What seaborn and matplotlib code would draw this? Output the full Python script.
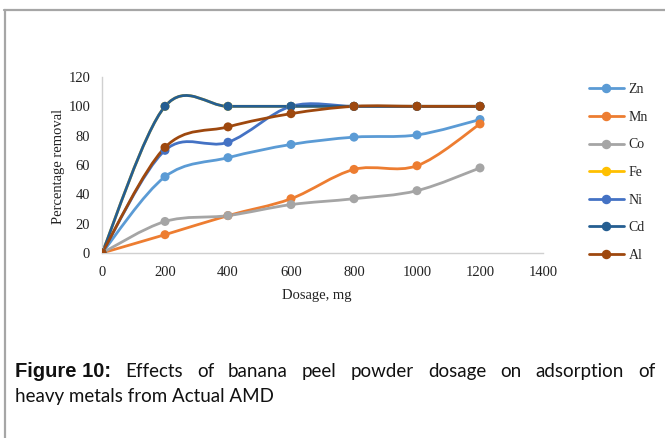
import numpy as np
import pandas as pd
import seaborn as sns
import matplotlib.pyplot as plt
from matplotlib.path import Path
from matplotlib.patches import PathPatch
from matplotlib.lines import Line2D

dosage = [0, 200, 400, 600, 800, 1000, 1200]
zn = [0, 52, 65, 74, 79, 80.5, 91]
mn = [0, 12.5, 25.5, 37, 57, 59.5, 88]
co = [0, 21.5, 25.5, 33, 37, 42.5, 58]
fe = [0, 100, 100, 100, 100, 100, 100]
ni = [0, 70, 75.5, 100, 100, 100, 100]
cd = [0, 100, 100, 100, 100, 100, 100]
al = [0, 72, 86, 95, 100, 100, 100]
metals = ['Zn', 'Mn', 'Co', 'Fe', 'Ni', 'Cd', 'Al']
series = [zn, mn, co, fe, ni, cd, al]
colors = ['#5B9BD5', '#ED7D31', '#A5A5A5', '#FFC000', '#4472C4', '#255E91', '#9E480E']

sns.set_theme(style="white")
plt.rcParams['font.family'] = ['Liberation Serif', 'DejaVu Serif']

rows = []
for m, vals in zip(metals, series):
    for d, v in zip(dosage, vals):
        rows.append({'Dosage': d, 'Removal': v, 'Metal': m})
df = pd.DataFrame(rows)

W, H = 665, 438
fig = plt.figure(figsize=(W / 100, H / 100), dpi=100)
ax = fig.add_axes([102 / W, 1 - 253 / H, 441 / W, 176 / H])


def smooth_path(x, y):
    # excel-like smoothed line (catmull-rom as bezier segments)
    pts = np.column_stack([x, y]).astype(float)
    p = np.vstack([pts[0], pts, pts[-1]])
    verts = [pts[0]]
    codes = [Path.MOVETO]
    for i in range(1, len(p) - 2):
        c1 = p[i] + (p[i + 1] - p[i - 1]) / 6
        c2 = p[i + 1] - (p[i + 2] - p[i]) / 6
        verts += [c1, c2, p[i + 1]]
        codes += [Path.CURVE4] * 3
    return Path(verts, codes)


for m, c in zip(metals, colors):
    sub = df[df['Metal'] == m]
    ax.add_patch(PathPatch(smooth_path(sub['Dosage'], sub['Removal']),
                           facecolor='none', edgecolor=c, lw=2.0, zorder=2,
                           capstyle='round', joinstyle='round'))

sns.scatterplot(data=df, x='Dosage', y='Removal', hue='Metal', hue_order=metals,
                palette=colors, s=42, linewidth=0, legend=False, ax=ax, zorder=3)

ax.set_xlim(0, 1400)
ax.set_ylim(0, 120)
ax.set_xticks(range(0, 1401, 200))
ax.set_yticks(range(0, 121, 20))
ax.tick_params(length=0, labelsize=10.5, colors='#222222')
ax.tick_params(axis='y', pad=8.5)
ax.tick_params(axis='x', pad=9.5)
for s in ['top', 'right']:
    ax.spines[s].set_visible(False)
for s in ['left', 'bottom']:
    ax.spines[s].set_color('#d0d0d0')
    ax.spines[s].set_linewidth(1)
ax.set_xlabel('Dosage, mg', fontsize=10.5, color='#222222')
ax.set_ylabel('Percentage removal', fontsize=10.5, color='#222222')
ax.xaxis.set_label_coords(0.488, -0.205)
ax.yaxis.set_label_coords(-0.083, 0.49)

handles = [Line2D([], [], color=c, marker='o', markersize=5.8, lw=2) for c in colors]
ax.legend(handles, metals, loc='center left', bbox_to_anchor=(589 / W, 1 - 172.5 / H),
          bbox_transform=fig.transFigure, frameon=False, fontsize=10,
          handlelength=2.5, handletextpad=0.35, labelspacing=1.05,
          borderpad=0, borderaxespad=0)

# page frame lines
fig.add_artist(Line2D([4 / W, 1], [1 - 10 / H, 1 - 10 / H], color='#a6a6a6', lw=1.6))
fig.add_artist(Line2D([4.5 / W, 4.5 / W], [1 - 10 / H, 0], color='#a6a6a6', lw=1.6))

# caption, justified first line
renderer = fig.canvas.get_renderer()
cap_font = ['Lato', 'DejaVu Sans']
fs = 13.5

words1 = ['Figure 10:', 'Effects', 'of', 'banana', 'peel', 'powder', 'dosage',
          'on', 'adsorption', 'of']
texts = []
for i, w in enumerate(words1):
    bold = i == 0
    t = fig.text(0, 1 - 377 / H, w, fontsize=14.5 if bold else fs,
                 family=['Liberation Sans', 'DejaVu Sans'] if bold else cap_font,
                 fontweight='bold' if bold else 'normal', va='baseline', color='#111111')
    texts.append(t)
widths = [t.get_window_extent(renderer).width for t in texts]
gap = (655 - 15 - sum(widths)) / (len(words1) - 1)
x = 15
for t, w in zip(texts, widths):
    t.set_x(x / W)
    x += w + gap
fig.text(15 / W, 1 - 402 / H, 'heavy metals from Actual AMD', fontsize=fs,
         family=cap_font, va='baseline', color='#111111')

fig.savefig('out.png', dpi=100)
